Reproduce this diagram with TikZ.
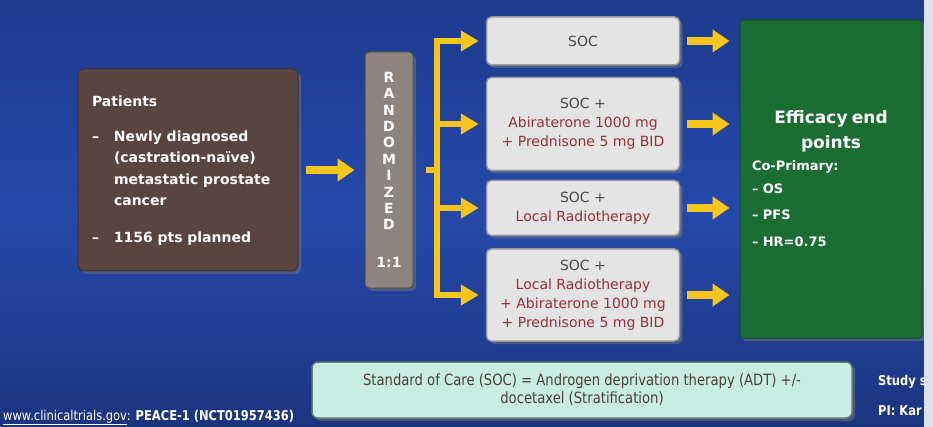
\documentclass[tikz,border=0pt]{standalone}
\usepackage{fontspec}
\setmainfont{DejaVu Sans}
\newfontfamily\narrowfont[FakeStretch=0.85]{DejaVu Sans}
\usetikzlibrary{arrows.meta,shadows}

\definecolor{bgtop}{HTML}{1C3A8E}
\definecolor{bgmid}{HTML}{2549AA}
\definecolor{bgbottom}{HTML}{1B347F}
\definecolor{patbrown}{HTML}{5A4440}
\definecolor{randgray}{HTML}{8E847F}
\definecolor{arrowyellow}{HTML}{F7C51C}
\definecolor{armfill}{HTML}{E4E4E4}
\definecolor{armedge}{HTML}{9A9A9A}
\definecolor{socgray}{HTML}{4A4A4A}
\definecolor{armred}{HTML}{9A2F3B}
\definecolor{effgreen}{HTML}{1B6E33}
\definecolor{notefill}{HTML}{C8EDE2}
\definecolor{noteedge}{HTML}{5E7F78}
\definecolor{notetext}{HTML}{4E3E3A}
\definecolor{edgewhite}{HTML}{DDE3EE}

\newcommand{\drug}[1]{\textcolor{armred}{#1}}

\tikzset{
  boxshadow/.style={drop shadow={shadow xshift=3pt, shadow yshift=-3pt, opacity=0.45}},
  patbox/.style={shape=rectangle, rounded corners=6pt, fill=patbrown, draw=patbrown!70!black, line width=1pt, boxshadow, text=white, text width=192pt, inner xsep=14pt, align=left, font=\bfseries\fontsize{14}{21.5}\selectfont},
  randbox/.style={shape=rectangle, rounded corners=4pt, fill=randgray, draw=randgray!60!black, line width=1pt, boxshadow, text=white, align=center, inner sep=2pt, font=\bfseries\fontsize{14}{16.4}\selectfont},
  armbox/.style={shape=rectangle, rounded corners=5pt, fill=armfill, draw=armedge, line width=1.5pt, boxshadow, minimum width=193pt, align=center, text=socgray, font=\fontsize{14}{19}\selectfont},
  effbox/.style={shape=rectangle, rounded corners=3pt, fill=effgreen, draw=effgreen!70!black, line width=1pt, boxshadow, minimum width=182pt, minimum height=318pt, text width=158pt, align=left, text=white, font=\bfseries\fontsize{13}{26}\selectfont},
  notebox/.style={shape=rectangle, rounded corners=6pt, fill=notefill, draw=noteedge, line width=1.5pt, boxshadow, minimum width=540pt, minimum height=56pt, align=center, text=notetext, font=\narrowfont\fontsize{15.5}{18}\selectfont},
  footer/.style={text=white, inner sep=0pt, font=\narrowfont\fontsize{13.5}{14}\selectfont},
  yarrow/.style={draw=arrowyellow, line width=8pt, -{Triangle[length=17pt,width=22pt]}},
  trunk/.style={draw=arrowyellow, line width=6pt},
  branch/.style={draw=arrowyellow, line width=6pt, -{Triangle[length=18pt,width=20pt]}}
}

\begin{document}
\begin{tikzpicture}[x=1pt, y=-1pt]
%%%%%%%%%%%%%%%%%%%%%%%%%%%%%%%%%%%%%%%%%%% HELP LINES
%\draw[help lines] (0,0) grid[step=50] (933,427);

%%%%%%%%%%%%%%%%%%%%%%%%%%%%%%%%%%%%%%%%%%% slide background
\useasboundingbox (0,0) rectangle (933,427);
\fill[top color=bgtop, bottom color=bgbottom, middle color=bgmid] (0,0) rectangle (933,427);

%%%%%%%%%%%%%%%%%%%%%%%%%%%%%%%%%%%%%%%%%%% patients and randomisation
\node[patbox, minimum height=202pt](pat) at (188,170){%
\begin{tabular}{@{}l@{\hspace{15pt}}l@{}}
\multicolumn{2}{@{}l@{}}{Patients}\\[13pt]
--& Newly diagnosed\\
  & (castration-naïve)\\
  & metastatic prostate\\
  & cancer\\[15pt]
--& 1156 pts planned
\end{tabular}};
\node[randbox, minimum width=48pt, minimum height=236pt](rand) at (389,170){R\\A\\N\\D\\O\\M\\I\\Z\\E\\D\\[21.6pt]1:1};
\coordinate (split) at (437,170);

%%%%% treatment arms
\node[armbox, minimum height=48pt](arm1) at (583,41){SOC};
\node[armbox, minimum height=93pt](arm2) at (583,124){SOC +\\\drug{Abiraterone 1000 mg}\\\drug{+ Prednisone 5 mg BID}};
\node[armbox, minimum height=55pt](arm3) at (583,208){SOC +\\\drug{Local Radiotherapy}};
\node[armbox, minimum height=92pt](arm4) at (583,295){SOC +\\\drug{Local Radiotherapy}\\\drug{+ Abiraterone 1000 mg}\\\drug{+ Prednisone 5 mg BID}};

%%%%% end points
\node[effbox](eff) at (831,179){%
{\centering\fontsize{17}{25}\selectfont Efficacy end\\points\par}
\vspace{-4pt}Co-Primary:\\[-3pt]
-- OS\\
-- PFS\\[1pt]
-- HR=0.75};

%%%%% stratification note and footer
\node[notebox](note) at (582,390){Standard of Care (SOC) = Androgen deprivation therapy (ADT) +/-\\docetaxel (Stratification)};
\node[footer, anchor=base west](site) at (3,420){\underline{www.clinicaltrials.gov}: \textbf{PEACE-1 (NCT01957436)}};
\node[footer, anchor=base west](study) at (878,385){\textbf{Study s}};
\node[footer, anchor=base west](pi) at (878,415){\textbf{PI: Kar}};

%%%%%%%%%%%%%%%%%%%%%%%%%%%%%%%%%%%%%%%%%%% arrows
\draw[yarrow, shorten <=7pt, shorten >=10pt] (pat) -- (rand);
\draw[trunk, shorten <=12pt] (rand) -- (split);
\draw[trunk, line cap=rect] (split |- arm1) -- (split |- arm4);
\foreach \arm in {arm1,arm2,arm3,arm4}{
  \draw[branch, shorten >=7pt] (split |- \arm) -- (\arm);
  \draw[yarrow, shorten <=7pt, shorten >=10pt] (\arm) -- (eff.west |- \arm);
}

%%%%% edge of the screen
\fill[edgewhite] (924,0) rectangle (933,427);
\end{tikzpicture}
\end{document}
